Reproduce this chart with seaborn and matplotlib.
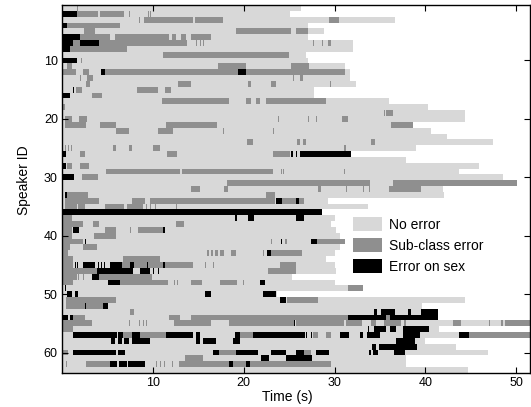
import numpy as np
import matplotlib
matplotlib.use("Agg")
import matplotlib.pyplot as plt
from matplotlib.colors import ListedColormap
from matplotlib.patches import Patch
import seaborn as sns

plt.rcParams['font.family'] = ['Liberation Sans', 'DejaVu Sans']

# one entry per speaker (1..63): utterance length in seconds
row_end = [26.3, 25.1, 36.6, 27.1, 28.8, 27.1, 32.0, 32.0, 26.9, 27.1,
           31.1, 31.7, 31.7, 32.3, 27.7, 27.7, 36.0, 40.3, 44.4, 44.4,
           38.6, 40.6, 42.4, 47.4, 39.0, 31.8, 37.9, 45.9, 43.7, 48.5,
           50.1, 41.9, 42.0, 29.3, 33.7, 28.6, 30.0, 29.6, 30.2, 30.6,
           31.1, 30.6, 30.0, 29.0, 30.0, 30.2, 25.3, 30.0, 33.1, 23.7,
           44.4, 39.6, 41.4, 41.4, 51.5, 41.5, 51.5, 40.0, 43.4, 46.9,
           37.9, 37.9, 44.7]

# sub-class error intervals (s), per speaker
sub_err = [
    [(1.7, 1.8)],
    [(1.6, 4.0), (4.2, 6.8), (7.4, 7.5), (9.5, 9.55), (9.7, 9.75)],
    [(8.5, 8.55), (9.0, 14.4), (14.6, 17.7), (29.4, 30.5)],
    [(0.5, 6.4)],
    [(2.4, 3.6), (19.2, 25.2), (25.7, 27.1)],
    [(2.0, 5.3), (5.8, 11.8), (12.1, 12.5), (13.1, 13.7), (14.2, 16.4)],
    [(1.2, 2.0), (4.1, 13.8), (14.8, 14.9), (15.2, 15.3), (15.5, 15.6), (27.6, 27.7), (28.6, 28.7), (29.3, 29.6)],
    [(0.9, 7.1)],
    [(11.1, 25.0)],
    [(2.1, 2.15)],
    [(0.6, 1.1), (17.2, 20.2), (25.2, 27.2)],
    [(0.0, 1.5), (2.3, 3.0), (4.7, 19.4), (20.2, 31.1)],
    [(1.6, 1.65), (2.0, 2.05), (2.8, 3.4), (25.4, 25.5), (26.2, 26.5)],
    [(2.6, 3.1), (12.8, 14.2), (18.0, 18.1), (20.5, 20.8), (23.0, 23.6), (29.5, 29.6)],
    [(1.5, 2.2), (8.2, 10.6), (11.3, 12.0)],
    [(3.3, 4.4)],
    [(11.0, 18.4), (20.2, 20.8), (21.3, 21.8), (22.4, 29.1)],
    [(0.0, 0.3)],
    [(35.4, 35.5), (35.7, 36.4)],
    [(0.3, 1.1), (1.9, 2.7), (23.8, 23.9), (27.1, 27.2), (28.0, 28.1), (30.8, 31.5)],
    [(0.3, 2.6), (4.2, 5.9), (11.4, 17.1), (36.2, 38.6)],
    [(5.9, 7.4), (10.6, 12.2), (17.7, 17.8), (23.2, 23.3)],
    [],
    [(20.4, 21.0), (25.9, 26.2), (26.5, 26.9), (34.0, 34.4)],
    [(0.3, 0.35), (0.7, 0.75), (1.0, 1.05), (5.6, 5.9), (7.4, 7.7), (10.0, 10.8), (31.0, 31.3)],
    [(2.0, 2.5), (11.6, 12.7), (23.2, 25.1)],
    [],
    [(0.6, 1.1), (2.0, 3.0)],
    [(4.8, 13.0), (13.2, 23.2), (24.1, 24.2), (24.3, 24.4), (31.0, 31.1)],
    [(2.2, 4.0)],
    [(18.2, 33.9), (36.4, 50.1)],
    [(14.2, 15.2), (17.8, 18.3), (28.2, 28.5), (31.3, 31.4), (32.3, 32.4), (33.1, 33.2), (33.8, 33.9), (36.0, 39.5)],
    [(0.5, 2.9), (22.5, 23.4)],
    [(0.3, 4.1), (7.7, 9.1), (9.7, 23.4), (24.2, 25.8), (26.1, 26.6)],
    [(0.3, 1.6), (1.8, 2.5), (4.7, 6.8), (7.1, 8.9), (9.2, 9.3), (9.7, 9.8), (10.2, 10.3), (12.5, 12.6)],
    [],
    [(0.1, 1.1)],
    [(0.1, 2.3), (3.4, 4.1), (12.5, 13.4)],
    [(0.1, 1.1), (4.7, 5.9), (7.5, 7.6), (8.4, 11.1)],
    [(0.1, 1.1), (3.5, 5.9)],
    [(0.1, 2.3), (23.0, 23.1), (24.5, 24.55), (24.7, 24.75), (28.1, 31.1)],
    [(0.1, 0.9), (2.3, 3.8)],
    [(0.1, 0.7), (16.0, 16.2), (16.4, 16.6), (16.8, 17.2), (17.4, 17.8), (18.6, 19.1), (22.1, 22.2), (23.0, 26.4)],
    [(0.1, 1.2), (6.7, 10.8)],
    [(0.1, 1.2), (6.6, 7.5), (7.9, 9.3), (9.5, 11.1), (11.3, 14.4), (15.7, 15.8), (16.6, 16.7), (24.0, 25.8)],
    [(0.1, 3.8), (22.7, 25.8)],
    [(0.1, 1.6), (1.8, 1.9), (2.3, 2.4), (4.1, 9.9)],
    [(0.1, 1.2), (6.4, 11.7), (12.3, 12.4), (12.7, 12.8), (14.2, 15.4), (17.4, 19.3), (19.9, 20.0)],
    [(31.5, 33.1)],
    [],
    [(0.4, 5.9), (24.8, 28.2)],
    [(0.4, 4.5)],
    [(7.5, 7.9)],
    [(1.2, 2.5), (11.8, 13.0), (14.2, 31.5), (35.7, 36.1)],
    [(0.0, 3.3), (7.1, 7.15), (7.4, 7.45), (8.5, 8.55), (8.9, 8.95), (9.2, 9.25), (12.3, 16.4), (18.4, 25.5),
     (25.7, 31.0), (31.2, 33.0), (34.0, 34.6), (35.4, 37.3), (37.6, 37.9), (43.0, 43.9), (47.0, 47.1),
     (48.3, 48.5), (48.7, 51.5)],
    [(0.0, 1.2)],
    [(6.7, 7.7), (8.6, 11.4), (19.6, 21.0), (27.6, 28.2), (29.0, 29.6), (44.8, 51.5)],
    [],
    [],
    [(0.1, 0.7), (17.3, 19.1), (26.6, 27.4)],
    [(13.5, 15.5)],
    [(0.4, 0.6), (2.6, 5.3), (10.3, 10.35), (10.8, 10.85), (11.2, 11.25), (11.5, 11.55), (12.1, 12.15),
     (12.9, 18.4), (18.8, 20.3), (20.7, 29.6)],
    [(0.5, 0.55)],
]

# error-on-sex intervals (s), per speaker
sex_err = [
    [], [(0.0, 1.6)], [], [(0.0, 0.5)], [], [(0.0, 2.0)], [(0.0, 1.2), (2.0, 4.1)], [(0.0, 0.9)], [], [(0.0, 1.6)],
    [], [(4.3, 4.7), (19.4, 20.2)], [], [], [(1.2, 1.25)], [(0.0, 0.9)], [], [], [], [],
    [], [], [], [], [], [(0.0, 0.4), (25.2, 25.35), (25.7, 25.9), (26.2, 31.8)], [], [(0.0, 0.4)], [], [(0.0, 1.3)],
    [], [], [(0.3, 0.5)], [(23.6, 24.2), (25.8, 26.1)], [], [(0.0, 28.6)], [(19.0, 19.3), (20.5, 21.1), (25.8, 26.6)], [],
    [(1.2, 1.9), (11.1, 11.3)], [],
    [(2.5, 2.6), (24.1, 24.2), (27.4, 28.1)], [], [(22.6, 23.0)], [],
    [(1.4, 1.5), (1.7, 1.8), (2.3, 3.6), (4.0, 4.1), (4.3, 4.4), (4.6, 4.7), (4.9, 5.0), (5.3, 6.6), (7.5, 7.9),
     (9.3, 9.5), (11.1, 11.3)],
    [(3.8, 7.8), (8.6, 9.7), (10.0, 10.1), (10.6, 10.7)],
    [(3.3, 4.1)],
    [(5.1, 6.4), (21.8, 22.3)],
    [(0.3, 0.4)],
    [(0.5, 1.1), (1.4, 1.8), (15.7, 16.4), (22.1, 23.6)],
    [(24.0, 24.7)],
    [(2.5, 2.6), (4.5, 5.1)],
    [(34.3, 34.7), (35.1, 36.6), (38.1, 38.4), (39.5, 41.4)],
    [(0.0, 0.7), (0.9, 1.2), (31.5, 35.7), (36.1, 41.4)],
    [(25.5, 25.6)],
    [(33.4, 33.5), (33.7, 33.8), (34.3, 35.7), (36.1, 36.8), (37.5, 40.4)],
    [(1.2, 6.0), (6.2, 6.7), (7.7, 8.6), (11.4, 14.4), (14.8, 15.2), (19.0, 19.6), (21.0, 26.7), (26.9, 27.0),
     (27.4, 27.5), (30.6, 31.6), (32.8, 33.1), (33.6, 35.0), (37.5, 39.4), (43.7, 44.8)],
    [(5.4, 5.8), (6.2, 6.6), (6.8, 7.4), (7.7, 9.7), (14.8, 15.2), (15.5, 17.0), (18.8, 19.6), (36.7, 38.8)],
    [(34.1, 34.5), (34.9, 39.1)],
    [(1.2, 5.9), (6.2, 6.9), (16.6, 17.3), (19.2, 21.6), (23.0, 24.7), (25.8, 26.6), (27.9, 29.4), (33.8, 34.0),
     (34.2, 34.8), (36.5, 37.7)],
    [(21.9, 22.8), (24.7, 27.5)],
    [(5.3, 6.1), (6.3, 7.1), (7.3, 9.1), (18.4, 18.8), (20.3, 20.7)],
    [],
]

labels = ['No error', 'Sub-class error', 'Error on sex']
colors = ['#d8d8d8', '#8f8f8f', '#000000']

res = 0.1
t_max = 51.5
ncol = int(round(t_max / res))


def to_col(t):
    return int(round(t / res))


mat = np.full((len(row_end), ncol), np.nan)
for i, end in enumerate(row_end):
    mat[i, :to_col(end)] = 0
    for code, segs in ((1, sub_err[i]), (2, sex_err[i])):
        for a, b in segs:
            c0 = to_col(a)
            c1 = max(to_col(b), c0 + 1)
            mat[i, c0:c1] = code

fig = plt.figure(figsize=(5.31, 4.07), dpi=100)
ax = fig.add_axes([62 / 531, 1 - 373 / 407, (530 - 62) / 531, (373 - 5) / 407])

sns.heatmap(mat, cmap=ListedColormap(colors), vmin=-0.5, vmax=2.5, cbar=False,
            xticklabels=False, yticklabels=False, ax=ax)

for sp in ax.spines.values():
    sp.set_visible(True)
    sp.set_linewidth(1.0)
    sp.set_color('black')

xt = [10, 20, 30, 40, 50]
ax.set_xticks([to_col(t) for t in xt])
ax.set_xticklabels([str(t) for t in xt], fontsize=9)
yt = [10, 20, 30, 40, 50, 60]
ax.set_yticks([y - 0.5 for y in yt])
ax.set_yticklabels([str(y) for y in yt], fontsize=9, rotation=0)
ax.tick_params(direction='in', top=True, right=True, length=4, width=0.8, pad=3)
ax.set_xlabel('Time (s)', fontsize=10, va='top')
ax.xaxis.set_label_coords(0.482, -0.047)
ax.set_ylabel('Speaker ID', fontsize=10)
ax.yaxis.set_label_coords(-0.067, 0.524)

handles = [Patch(facecolor=c, edgecolor='none', label=l) for c, l in zip(colors, labels)]
ax.legend(handles=handles, loc='upper left', bbox_to_anchor=(0.622, 0.424), frameon=False,
          fontsize=10, handlelength=2.1, handleheight=1.2, handletextpad=0.45,
          labelspacing=0.45, borderpad=0, borderaxespad=0)

fig.savefig('out.png', dpi=100)
